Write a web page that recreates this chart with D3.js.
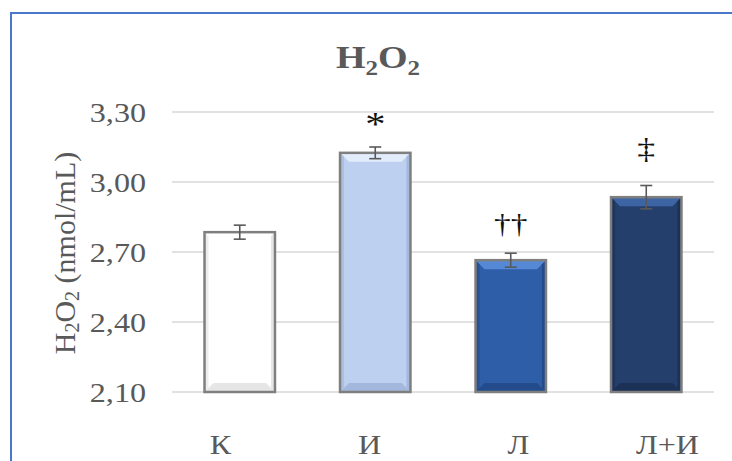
<!DOCTYPE html>
<html>
<head>
<meta charset="utf-8">
<script src="https://cdn.jsdelivr.net/npm/d3@7"></script>
<style>
  body { margin: 0; background: #fff; }
  svg { display: block; }
  svg text { font-family: "Liberation Serif", "Times New Roman", serif; }
</style>
</head>
<body>
<div id="chart"></div>
<script>
var categories = ["К", "И", "Л", "Л+И"];
var means = [2.785, 3.125, 2.665, 2.935];
var errors = [0.03, 0.025, 0.03, 0.05];
var marks = ["", "*", "††", "‡"];
var yTicks = [2.10, 2.40, 2.70, 3.00, 3.30];

var fills = ["#ffffff", "#bdd0f0", "#2f5ea8", "#243f6c"];
var lights = ["#ffffff", "#e2ecfb", "#5589d6", "#3e65a3"];
var darks = ["#e6e6e6", "#a3b8dc", "#244c8c", "#1b3156"];

var width = 732, height = 461;
var margin = {top: 112, right: 18, bottom: 69, left: 172};
var stretch = "scale(1.19,1)"; // the original picture is a bit wider than tall

var svg = d3.select("#chart").append("svg")
    .attr("width", width)
    .attr("height", height);

// outer frame, cut off at right and bottom
svg.append("rect")
    .attr("x", 11).attr("y", 13)
    .attr("width", 800).attr("height", 600)
    .attr("fill", "none")
    .attr("stroke", "#4a78c8")
    .attr("stroke-width", 2);

var x = d3.scaleBand()
    .domain(categories)
    .range([margin.left, width - margin.right])
    .paddingInner(0.48)
    .paddingOuter(0.24);

// category labels sit a bit wider than the bars in the original
var xLabel = d3.scaleBand()
    .domain(categories)
    .range([146, 742]);

var y = d3.scaleLinear()
    .domain([2.10, 3.30])
    .range([height - margin.bottom, margin.top]);

var fmt = function(d) { return d3.format(".2f")(d).replace(".", ","); };

// grid
svg.append("g")
    .selectAll("line")
    .data(yTicks)
    .enter().append("line")
    .attr("x1", margin.left)
    .attr("x2", width - margin.right)
    .attr("y1", function(d) { return y(d); })
    .attr("y2", function(d) { return y(d); })
    .attr("stroke", "#d9d9d9")
    .attr("stroke-width", 1.5);

// y axis labels
var yAxis = svg.append("g")
    .attr("transform", "translate(" + (margin.left - 26) + ",0)")
    .call(d3.axisLeft(y).tickValues(yTicks).tickFormat(fmt).tickSize(0).tickPadding(0));
yAxis.select(".domain").remove();
yAxis.selectAll("text")
    .style("font-size", "27px")
    .attr("fill", "#595959")
    .attr("dy", "0.34em")
    .attr("transform", stretch);

// x labels
var xAxis = svg.append("g")
    .attr("transform", "translate(0,454)")
    .call(d3.axisBottom(xLabel).tickSize(0).tickPadding(0));
xAxis.select(".domain").remove();
xAxis.selectAll("text")
    .style("font-size", "27px")
    .attr("fill", "#595959")
    .attr("y", 0)
    .attr("dy", 0)
    .attr("transform", stretch);

// bars with a bevel
var bw = x.bandwidth();
var bev = 9;
var bars = svg.append("g").selectAll("g")
    .data(categories)
    .enter().append("g");

bars.append("rect")
    .attr("x", function(d) { return x(d); })
    .attr("y", function(d, i) { return y(means[i]); })
    .attr("width", bw)
    .attr("height", function(d, i) { return y(2.10) - y(means[i]); })
    .attr("fill", function(d, i) { return fills[i]; });

// top bevel
bars.append("polygon")
    .attr("points", function(d, i) {
        var x0 = x(d), x1 = x(d) + bw, t = y(means[i]);
        return [[x0, t], [x1, t], [x1 - bev, t + bev], [x0 + bev, t + bev]].join(" ");
    })
    .attr("fill", function(d, i) { return lights[i]; });

// bottom and side bevels
bars.append("polygon")
    .attr("points", function(d, i) {
        var x0 = x(d), x1 = x(d) + bw, b = y(2.10);
        return [[x0, b], [x1, b], [x1 - bev, b - bev], [x0 + bev, b - bev]].join(" ");
    })
    .attr("fill", function(d, i) { return darks[i]; });
bars.append("polygon")
    .attr("points", function(d, i) {
        var x1 = x(d) + bw, t = y(means[i]), b = y(2.10);
        return [[x1, t], [x1, b], [x1 - 4, b - 4], [x1 - 4, t + 4]].join(" ");
    })
    .attr("fill", function(d, i) { return darks[i]; });
bars.append("polygon")
    .attr("points", function(d, i) {
        var x0 = x(d), t = y(means[i]), b = y(2.10);
        return [[x0, t], [x0, b], [x0 + 4, b - 4], [x0 + 4, t + 4]].join(" ");
    })
    .attr("fill", function(d, i) { return darks[i]; })
    .attr("opacity", 0.7);

bars.append("rect")
    .attr("x", function(d) { return x(d); })
    .attr("y", function(d, i) { return y(means[i]); })
    .attr("width", bw)
    .attr("height", function(d, i) { return y(2.10) - y(means[i]); })
    .attr("fill", "none")
    .attr("stroke", "#7f7f7f")
    .attr("stroke-width", 2.5);

// error bars
var eb = svg.append("g").attr("stroke", "#595959").attr("stroke-width", 1.6);
categories.forEach(function(c, i) {
    var cx = x(c) + bw / 2;
    var top = y(means[i] + errors[i]), bot = y(means[i] - errors[i]);
    eb.append("line").attr("x1", cx).attr("x2", cx).attr("y1", top).attr("y2", bot);
    eb.append("line").attr("x1", cx - 6).attr("x2", cx + 6).attr("y1", top).attr("y2", top);
    eb.append("line").attr("x1", cx - 6).attr("x2", cx + 6).attr("y1", bot).attr("y2", bot);
});

// significance marks
var markSize = [30, 34, 28, 30];
var markGap = [14, 12, 20, 28];
svg.append("g").selectAll("text")
    .data(marks)
    .enter().append("text")
    .attr("transform", function(d, i) {
        return "translate(" + (x(categories[i]) + bw / 2) + "," + (y(means[i] + errors[i]) - markGap[i]) + ") " + stretch;
    })
    .attr("text-anchor", "middle")
    .style("font-size", function(d, i) { return markSize[i] + "px"; })
    .attr("fill", "#111")
    .text(function(d) { return d; });

// title
var title = svg.append("text")
    .attr("transform", "translate(378,68) " + stretch)
    .attr("text-anchor", "middle")
    .style("font-size", "32px")
    .attr("font-weight", "bold")
    .attr("fill", "#595959");
title.append("tspan").text("H");
title.append("tspan").style("font-size", "21px").attr("dy", 7).text("2");
title.append("tspan").attr("dy", -7).text("O");
title.append("tspan").style("font-size", "21px").attr("dy", 7).text("2");

// y axis title
var yt = svg.append("text")
    .attr("transform", "translate(75,253) rotate(-90)")
    .attr("text-anchor", "middle")
    .style("font-size", "30px")
    .attr("fill", "#595959");
yt.append("tspan").text("H");
yt.append("tspan").style("font-size", "20px").attr("dy", 4).text("2");
yt.append("tspan").attr("dy", -4).text("O");
yt.append("tspan").style("font-size", "20px").attr("dy", 4).text("2");
yt.append("tspan").attr("dy", -4).text(" (nmol/mL)");
</script>
</body>
</html>
